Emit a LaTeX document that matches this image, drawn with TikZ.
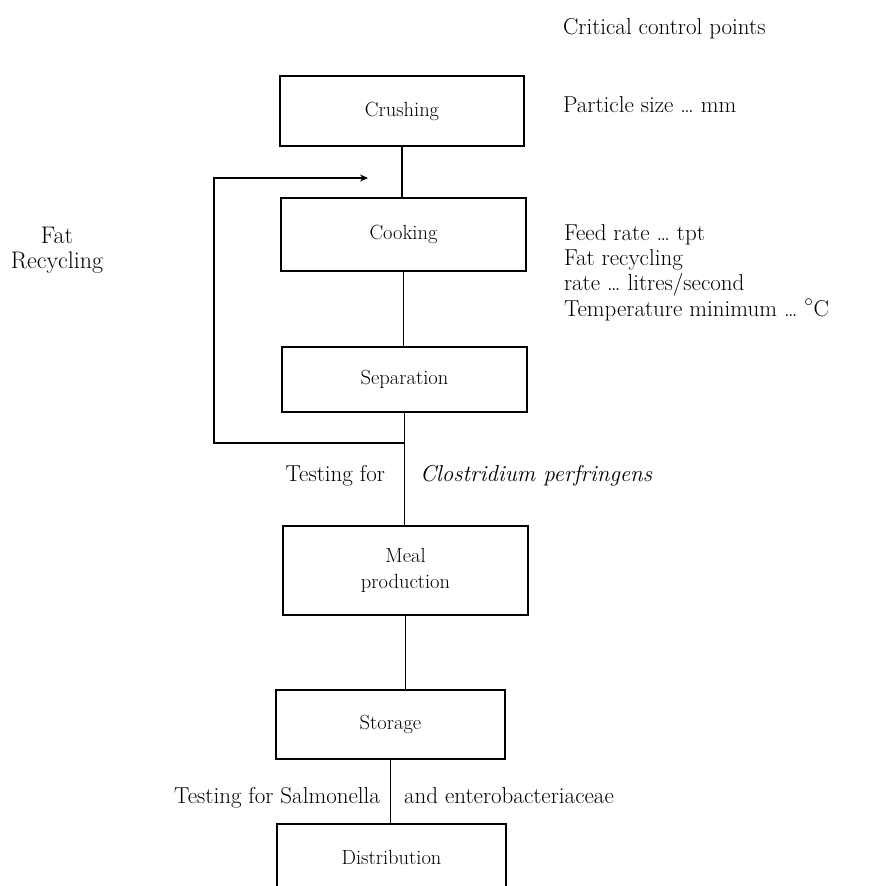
\documentclass[tikz,border=0pt]{standalone}
\usetikzlibrary{arrows.meta}
\begin{document}
\begin{tikzpicture}[x=1pt,y=-1pt,
  line width=2pt,
  stepbox/.style={draw, rectangle, inner sep=0pt, align=center,
    font=\fontsize{20.5}{26}\selectfont},
  side/.style={inner sep=0pt, anchor=base west, font=\fontsize{23}{25}\selectfont},
  flow/.style={line width=1.8pt},
  feedback/.style={line width=1.8pt, -{Stealth[length=8pt,width=7pt]}}]
\path[use as bounding box, clip] (0,0) rectangle (870,886);

% process boxes
\node[stepbox, minimum width=244, minimum height=70] (crush) at (402,111)   {Crushing};
\node[stepbox, minimum width=245, minimum height=73] (cook)  at (403.5,234.5) {Cooking};
\node[stepbox, minimum width=245, minimum height=65] (sep)   at (404.5,379.5) {Separation};
\node[stepbox, minimum width=245, minimum height=89] (meal)  at (405.5,570.5) {Meal\\production};
\node[stepbox, minimum width=229, minimum height=69] (stor)  at (390.5,724.5) {Storage};
\node[stepbox, minimum width=229, minimum height=66] (dist)  at (391.5,857)   {Distribution};

% main flow
\draw[flow] (crush.south) -- (crush.south |- cook.north);
\draw[flow] (cook.south) -- (cook.south |- sep.north);
\draw[flow] (sep.south) -- (sep.south |- meal.north);
\draw[flow] (meal.south) -- (meal.south |- stor.north);
\draw[flow] (stor.south) -- (stor.south |- dist.north);

% fat recycling loop
\coordinate (junction) at (404.5,443);
\coordinate (loopcorner) at (214,443);
\coordinate (loopend) at (368,178);
\draw[feedback] (junction) -- (loopcorner) |- (loopend);
\node[inner sep=0pt, align=center, font=\fontsize{24}{25}\selectfont] (fat) at (57,250) {Fat\\Recycling};

% critical control points
\node[side] (ccp)   at (562,34)  {Critical control points};
\node[side] (part)  at (562,112) {Particle size \dots\ mm};
\node[side] (feed)  at (563,240) {Feed rate \dots\ tpt};
\node[side] (fatr)  at (563,265) {Fat recycling};
\node[side] (rate)  at (563,290) {rate \dots\ litres/second};
\node[side] (temp)  at (563,316) {Temperature minimum \dots\ $^\circ$C};

% testing notes
\node[side, anchor=base east] (test1) at (386,481) {Testing for};
\node[side] (clos) at (419,481) {\itshape Clostridium perfringens};
\node[side, anchor=base east] (test2) at (381,803) {Testing for Salmonella};
\node[side] (entero) at (403,803) {and enterobacteriaceae};
\end{tikzpicture}
\end{document}
